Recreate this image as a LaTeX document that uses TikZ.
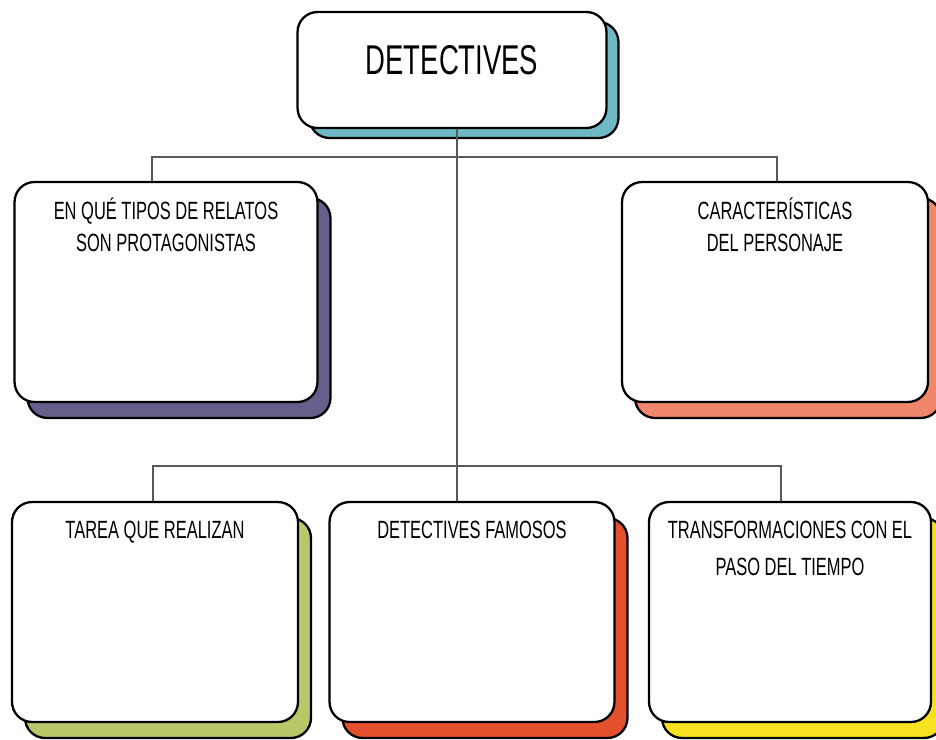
\documentclass[tikz,border=0pt]{standalone}
\usepackage{fontspec}
\setmainfont{Liberation Sans}[FakeStretch=0.66]
\usepackage{xcolor}
\usetikzlibrary{shadows,positioning}
\definecolor{dtteal}{RGB}{110,185,196}
\definecolor{dtpurple}{RGB}{104,94,140}
\definecolor{dtsalmon}{RGB}{240,134,106}
\definecolor{dtlime}{RGB}{183,201,104}
\definecolor{dtred}{RGB}{228,80,46}
\definecolor{dtyellow}{RGB}{246,226,30}

\begin{document}
\begin{tikzpicture}[
  x=0.02cm, y=-0.02cm,
  card/.style={draw=black, line width=1.3pt, fill=white, rounded corners=0.4cm, inner sep=0pt},
  tint/.style={general shadow={fill=#1, draw=black, line width=1.3pt, shadow xshift=0.26cm, shadow yshift=-0.32cm}},
  txt/.style={font=\fontsize{14.2}{18.7}\selectfont, align=center, anchor=base, inner sep=0pt},
  link/.style={draw=black!65, line width=0.6pt}
]
\path[fill=white] (0,0) rectangle (936,740);
\useasboundingbox (0,0) rectangle (936,740);

% title
\node[card, general shadow={fill=dtteal, draw=black, line width=1.3pt, shadow xshift=0.24cm, shadow yshift=-0.2cm},
      minimum width=6.18cm, minimum height=2.32cm, text depth=0.4cm,
      font=\fontsize{23.7}{28}\selectfont] (title) at (452,70) {DETECTIVES};

% middle row
\node[card, tint=dtpurple, minimum width=6.06cm, minimum height=4.4cm] (relatos) at (166,292) {};
\node[card, tint=dtsalmon, minimum width=6.12cm, minimum height=4.4cm] (rasgos) at (775,292) {};

% bottom row
\node[card, tint=dtlime, minimum width=5.72cm, minimum height=4.4cm] (tarea) at (155,612) {};
\node[card, tint=dtred, minimum width=5.7cm, minimum height=4.4cm] (famosos) at (472,612) {};
\node[card, tint=dtyellow, minimum width=5.64cm, minimum height=4.4cm] (cambios) at (790,612) {};

% texts (base = last line)
\node[txt] (relatos-t) at ([yshift=-1.42cm]relatos.north) {EN QUÉ TIPOS DE RELATOS\\SON PROTAGONISTAS};
\node[txt] (rasgos-t) at ([yshift=-1.42cm]rasgos.north) {CARACTERÍSTICAS\\DEL PERSONAJE};
\node[txt] (tarea-t) at ([yshift=-0.76cm]tarea.north) {TAREA QUE REALIZAN};
\node[txt] (famosos-t) at ([yshift=-0.76cm]famosos.north) {DETECTIVES FAMOSOS};
\node[txt, font=\fontsize{14.2}{21}\selectfont] (cambios-t) at ([yshift=-1.5cm]cambios.north) {TRANSFORMACIONES CON EL\\PASO DEL TIEMPO};

% connectors
\coordinate (hubA) at (457,157);
\coordinate (hubB) at (457,466);
\draw[link] (title.south -| hubA) -- (hubB |- famosos.north);
\draw[link] ([xshift=-0.28cm]relatos.north) |- (hubA) -| ([xshift=0.04cm]rasgos.north);
\draw[link] ([xshift=-0.04cm]tarea.north) |- (hubB) -| ([xshift=-0.18cm]cambios.north);
\end{tikzpicture}
\end{document}
